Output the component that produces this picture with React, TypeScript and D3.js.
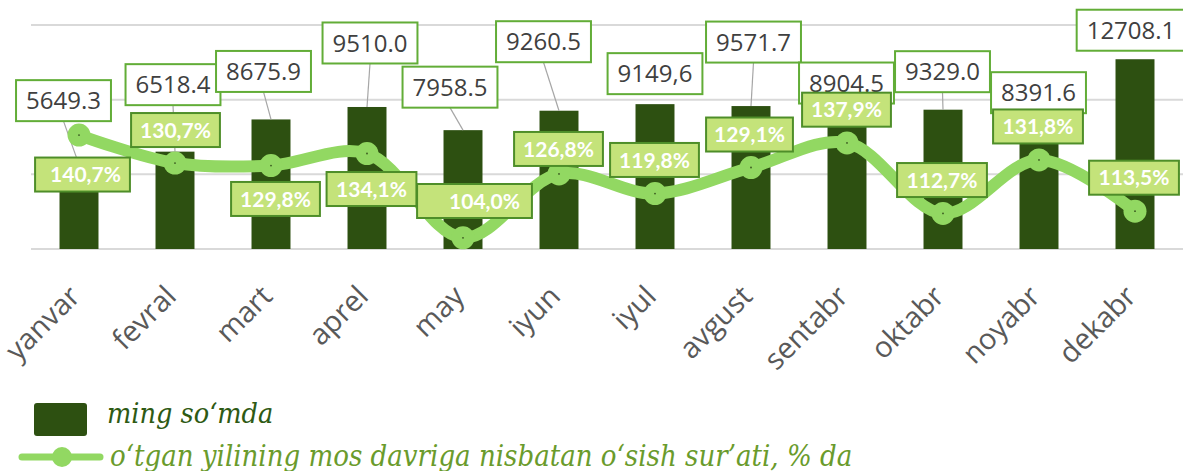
import React, { useEffect, useRef } from "react";
import * as d3 from "d3";

const months = ["yanvar", "fevral", "mart", "aprel", "may", "iyun", "iyul", "avgust", "sentabr", "oktabr", "noyabr", "dekabr"];
// bar heights (ming so'mda)
const amounts = [5649.3, 6518.4, 8675.9, 9510.0, 7958.5, 9260.5, 9700, 9571.7, 8904.5, 9329.0, 8391.6, 12708.1];
// value labels as printed on the chart
const amountLabels = ["5649.3", "6518.4", "8675.9", "9510.0", "7958.5", "9260.5", "9149,6", "9571.7", "8904.5", "9329.0", "8391.6", "12708.1"];
// growth rate, %
const growth = [140.7, 130.7, 129.8, 134.1, 104.0, 126.8, 119.8, 129.1, 137.9, 112.7, 131.8, 113.5];
const amountTicks = [0, 5000, 10000, 15000];
const legendBar = "ming so‘mda";
const legendLine = "o‘tgan yilining mos davriga nisbatan o‘sish sur’ati, % da";

// layout of the manually-placed labels: [dx, dy] of box centre from bar top / point
const amountLabelPos = [[-15.5, -64], [-2, -67], [-7.5, -48], [3, -64], [-13, -43], [-15.5, -69], [0, -30.5], [2.5, -64], [-0.5, -33], [-0.5, -38], [-0.5, -31], [-4, -29]];
// [dx, dy, extra width, text shift]
const growthLabelPos = [[3.5, 39.5, 6, 3], [0.5, -33, 0, 0], [4.5, 33.4, 0, 0], [4.5, 35.5, 1, 0], [11.5, -36.8, 26, 10], [-0.5, -25, 0, 0], [-0.5, -33.6, 0, 0], [-1.5, -33, -2, 0], [-0.5, -33.2, 0, 0], [-1, -33.4, 1, 0], [-1, -33.5, 1, 0], [-1, -33.5, 1, 0]];

const W = 1183;
const H = 471;
const BAR = "#2D5011";
const LINE = "#92D862";
const PCT_FILL = "#C4E37A";
const PCT_STROKE = "#4E8E29";
const VAL_STROKE = "#62AD37";

export default function App() {
  const ref = useRef<SVGSVGElement>(null);

  useEffect(() => {
    const svg = d3.select(ref.current);
    svg.selectAll("*").remove();

    const x = d3.scaleBand<string>().domain(months).range([31, 1183]).paddingInner(0.594).paddingOuter(0.297);
    const y = d3.scaleLinear().domain([0, 15000]).range([249, 25]);
    const y2 = d3.scaleLinear().domain([100, 180]).range([249, 25]);
    const cx = (m: string) => (x(m) as number) + x.bandwidth() / 2;

    // gridlines
    svg.append("g").selectAll("line").data(amountTicks).join("line")
      .attr("x1", 31).attr("x2", W).attr("y1", d => y(d)).attr("y2", d => y(d))
      .attr("stroke", "#D9D9D9").attr("stroke-width", 2);

    // bars
    svg.append("g").selectAll("rect").data(amounts).join("rect")
      .attr("x", (d, i) => x(months[i]) as number)
      .attr("width", x.bandwidth())
      .attr("y", d => y(d))
      .attr("height", d => y(0) - y(d))
      .attr("fill", BAR);

    // value labels with leaders
    const valG = svg.append("g");
    amounts.forEach((v, i) => {
      const bx = cx(months[i]);
      const by = y(v);
      const lx = bx + amountLabelPos[i][0];
      const ly = by + amountLabelPos[i][1];
      const h = 41;
      const g = valG.append("g");
      if (by - (ly + h / 2) > 12) {
        g.append("line").attr("x1", lx).attr("y1", ly + h / 2).attr("x2", bx).attr("y2", by)
          .attr("stroke", "#A6A6A6").attr("stroke-width", 1.2);
      }
      const rect = g.append("rect");
      const t = g.append("text").attr("x", lx).attr("y", ly).attr("dy", "0.36em")
        .attr("text-anchor", "middle")
        .style("font-family", "'Open Sans', sans-serif").style("font-size", "24px")
        .attr("fill", "#404040").text(amountLabels[i]);
      const tw = (t.node() as SVGTextElement).getComputedTextLength();
      const w = tw + 20;
      rect.attr("x", lx - w / 2).attr("y", ly - h / 2).attr("width", w).attr("height", h)
        .attr("fill", "#fff").attr("stroke", VAL_STROKE).attr("stroke-width", 2);
    });

    // growth line
    const line = d3.line<number>()
      .x((d, i) => cx(months[i]))
      .y(d => y2(d))
      .curve(d3.curveCatmullRom.alpha(0.5));
    svg.append("path").datum(growth).attr("d", line)
      .attr("fill", "none").attr("stroke", LINE).attr("stroke-width", 12)
      .attr("stroke-linejoin", "round").attr("stroke-linecap", "round");
    svg.append("g").selectAll("circle").data(growth).join("circle")
      .attr("cx", (d, i) => cx(months[i])).attr("cy", d => y2(d)).attr("r", 11.5)
      .attr("fill", LINE);
    svg.append("g").selectAll("circle").data(growth).join("circle")
      .attr("cx", (d, i) => cx(months[i])).attr("cy", d => y2(d)).attr("r", 0.9)
      .attr("fill", "#3A5A20");

    // growth labels
    const fmt = (v: number) => d3.format(".1f")(v).replace(".", ",") + "%";
    const pctG = svg.append("g");
    growth.forEach((v, i) => {
      const px = cx(months[i]) + growthLabelPos[i][0];
      const py = y2(v) + growthLabelPos[i][1];
      const h = 34;
      const g = pctG.append("g");
      const rect = g.append("rect");
      const t = g.append("text").attr("x", px + growthLabelPos[i][3]).attr("y", py).attr("dy", "0.36em")
        .attr("text-anchor", "middle")
        .style("font-family", "Lato, sans-serif").style("font-size", "21px").style("font-weight", "bold")
        .attr("fill", "#fff").text(fmt(v));
      const tw = (t.node() as SVGTextElement).getComputedTextLength();
      const w = tw + 18 + growthLabelPos[i][2];
      rect.attr("x", px - w / 2).attr("y", py - h / 2).attr("width", w).attr("height", h)
        .attr("fill", PCT_FILL).attr("stroke", PCT_STROKE).attr("stroke-width", 2);
    });

    // category axis labels
    svg.append("g").selectAll("text").data(months).join("text")
      .attr("transform", d => `translate(${cx(d) + 3},${298}) rotate(-45)`)
      .attr("text-anchor", "end")
      .style("font-family", "'Open Sans', sans-serif").style("font-size", "29px")
      .attr("fill", "#595959").text(d => d);

    // legend
    const lg = svg.append("g");
    lg.append("rect").attr("x", 34).attr("y", 403).attr("width", 53).attr("height", 33).attr("rx", 3).attr("fill", BAR);
    lg.append("text").attr("x", 107).attr("y", 423)
      .style("font-family", "'DejaVu Serif Condensed', 'DejaVu Serif', serif").style("font-style", "italic").style("font-size", "28.5px")
      .attr("fill", "#2E5A14").text(legendBar);
    lg.append("line").attr("x1", 22).attr("x2", 100).attr("y1", 457).attr("y2", 457)
      .attr("stroke", LINE).attr("stroke-width", 7).attr("stroke-linecap", "round");
    lg.append("circle").attr("cx", 62).attr("cy", 457).attr("r", 10).attr("fill", LINE);
    lg.append("text").attr("x", 110).attr("y", 466)
      .style("font-family", "'DejaVu Serif Condensed', 'DejaVu Serif', serif").style("font-style", "italic").style("font-size", "29px")
      .attr("fill", "#6A9B2C").text(legendLine);
  }, []);

  return (
    <svg ref={ref} width={W} height={H} style={{ position: "absolute", left: 0, top: 0, background: "#fff" }} />
  );
}
